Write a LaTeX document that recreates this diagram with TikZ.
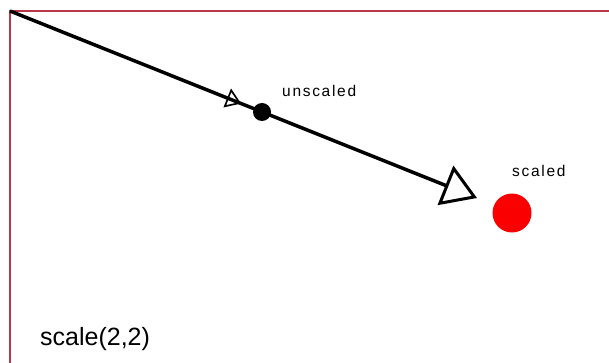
\documentclass[tikz,border=0pt]{standalone}
\usepackage{fontspec}
\setmainfont{Liberation Sans}
\usetikzlibrary{arrows.meta,decorations.markings}
\definecolor{frameRed}{RGB}{185,55,75}
\definecolor{dotRed}{RGB}{250,0,0}

\begin{document}
\begin{tikzpicture}[x=1pt, y=-1pt, >=Triangle]
        \tikzset{lbl/.style={anchor=base west, inner sep=0pt,
                 font=\addfontfeature{LetterSpace=11}\fontsize{15.5}{18}\selectfont},
                 dot/.style={circle, inner sep=0pt}}
        \useasboundingbox (0,0) rectangle (609,363);
        %% Marco
        \draw[frameRed, line width=2.5pt] (609,11) -- (10,11) -- (10,363);
        %% Recta con las dos flechas
        \coordinate (org) at (10,11);
        \coordinate (tip) at (477,198);
        \draw[line width=3.5pt,
              -{Triangle[open, length=34pt, width=42pt, line width=3pt]},
              postaction={decorate, decoration={markings,
                 mark=at position 0.495 with {\arrow[line width=1.7pt]
                 {Triangle[open, length=15pt, width=20pt]}}}}]
              (org) -- (tip);
        %% Puntos
        \node[dot, fill=black,  minimum size=18pt] (udot) at (262,112) {};
        \node[dot, fill=dotRed, minimum size=39pt] (sdot) at (512,213) {};
        %% Textos
        \node[lbl] (uns) at (282,97)  {unscaled};
        \node[lbl] (sca) at (512,177) {scaled};
        \node[anchor=base west, inner sep=0pt, font=\fontsize{25}{29}\selectfont]
              (cap) at (40,345) {scale(2,2)};
    \end{tikzpicture}
\end{document}
